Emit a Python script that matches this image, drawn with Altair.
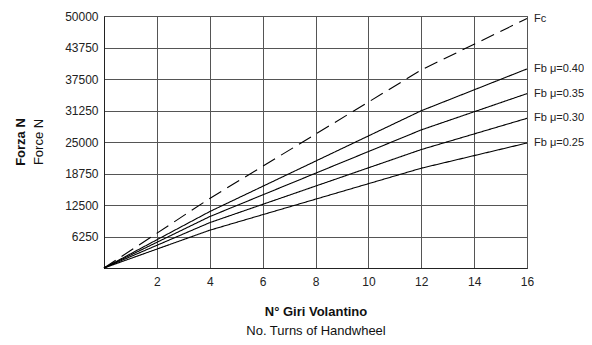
import altair as alt
import pandas as pd

# Data
turns = [0, 4, 12, 16]
fc = [0, 13800, 39300, 49500]
fb_040 = [0, 11200, 31200, 39500]
fb_035 = [0, 10200, 27400, 34600]
fb_030 = [0, 9000, 23500, 29700]
fb_025 = [0, 7500, 19800, 24800]

series_names = ["Fc", "Fb μ=0.40", "Fb μ=0.35", "Fb μ=0.30", "Fb μ=0.25"]
series_vals = [fc, fb_040, fb_035, fb_030, fb_025]
series_style = ["dash", "solid", "solid", "solid", "solid"]

x_ticks = [2, 4, 6, 8, 10, 12, 14, 16]
y_ticks = [6250, 12500, 18750, 25000, 31250, 37500, 43750, 50000]

rows = []
for name, vals, sty in zip(series_names, series_vals, series_style):
    for t, v in zip(turns, vals):
        rows.append({"series": name, "turns": t, "force": v, "style": sty})
df = pd.DataFrame(rows)
ends = df[df["turns"] == turns[-1]]

FONT = "Liberation Sans"

xscale = alt.Scale(domain=[0, 16], nice=False, zero=True)
yscale = alt.Scale(domain=[0, 50000], nice=False)

common = dict(title=None, grid=True, ticks=False, labelFontSize=12,
              labelFont=FONT, labelColor="#222", domainColor="#222",
              gridColor="#555", gridOpacity=1, gridWidth=1,
              labelOverlap=False, labelFlush=False, labelBound=False,
              tickCount=20)
xaxis = alt.Axis(values=x_ticks, labelPadding=8, format="d", **common)
yaxis = alt.Axis(values=y_ticks, labelPadding=6, format="d", **common)

lines = alt.Chart(df).mark_line(color="black", strokeWidth=1.1).encode(
    x=alt.X("turns:Q", scale=xscale, axis=xaxis),
    y=alt.Y("force:Q", scale=yscale, axis=yaxis),
    detail="series:N",
    strokeDash=alt.StrokeDash("style:N",
                              scale=alt.Scale(domain=["solid", "dash"],
                                              range=[[1, 0], [14, 7]]),
                              legend=None),
)

labels = alt.Chart(ends).mark_text(align="left", baseline="middle", dx=7,
                                   font=FONT, fontSize=11, color="#222").encode(
    x=alt.X("turns:Q", scale=xscale),
    y=alt.Y("force:Q", scale=yscale),
    text="series:N",
)

def title_text(txt, x, y, bold, angle=0):
    return alt.Chart(pd.DataFrame({"t": [txt]})).mark_text(
        font=FONT, fontSize=13, fontWeight="bold" if bold else "normal",
        color="#111", angle=angle, align="center", baseline="middle",
    ).encode(text="t:N", x=alt.value(x), y=alt.value(y))

t1 = title_text("Forza N", -83, 126, True, 270)
t2 = title_text("Force N", -65, 126, False, 270)
t3 = title_text("N° Giri Volantino", 212, 296, True)
t4 = title_text("No. Turns of Handwheel", 212, 315, False)

chart = alt.layer(lines, labels, t1, t2, t3, t4).properties(
    width=423, height=252,
    autosize=alt.AutoSizeParams(type="none"),
    padding={"left": 96, "top": 8, "right": 57, "bottom": 69},
).configure_view(stroke="#444", strokeWidth=1)

chart.save("out.html", embed_options={"renderer": "svg", "actions": False})
